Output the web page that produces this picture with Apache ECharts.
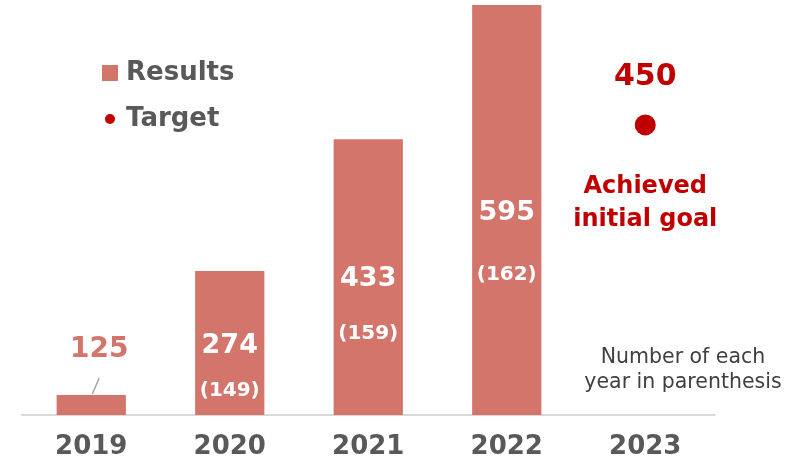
<!DOCTYPE html>
<html>
<head>
<meta charset="utf-8">
<script src="https://cdn.jsdelivr.net/npm/echarts@6/dist/echarts.min.js"></script>
<style>
html,body{margin:0;padding:0;background:#fff;}
#c{width:797px;height:462px;}
</style>
</head>
<body>
<div id="c"></div>
<script>
// ---- data ----
var years = ['2019', '2020', '2021', '2022', '2023'];
var results = [125, 274, 433, 595];          // cumulative results (labels)
var yearCounts = [null, 149, 159, 162];      // number of each year (parenthesis)
var barLevels = [29, 209, 400, 595];         // drawn bar heights
var target = 450;                            // target label
var targetLevel = 421;                       // drawn target dot height
var noteText = 'Number of each\nyear in parenthesis';
var goalText = 'Achieved\ninitial goal';

var BAR = '#D4756C', RED = '#C00000', GREY = '#595959', FONT = 'DejaVu Sans';

var insideDist = [null, 60, 125, 193];
var secondLH = [null, 60, 78, 94];

var barData = barLevels.map(function (v, i) {
  if (i === 0) {
    return {
      value: v,
      label: {
        show: true, position: 'top', distance: 31, offset: [8, 0],
        formatter: String(results[i]),
        color: BAR, fontSize: 28, fontWeight: 'bold', fontFamily: FONT
      }
    };
  }
  return {
    value: v,
    label: {
      show: true, position: 'insideTop', distance: insideDist[i],
      formatter: '{a|' + results[i] + '}\n{b|(' + yearCounts[i] + ')}',
      rich: {
        a: { color: '#fff', fontSize: 27, fontWeight: 'bold', fontFamily: FONT, lineHeight: 30, align: 'center' },
        b: { color: '#fff', fontSize: 20, fontWeight: 'bold', fontFamily: FONT, lineHeight: secondLH[i], align: 'center' }
      }
    }
  };
});

var dotSvg = "data:image/svg+xml;charset=utf-8," + encodeURIComponent(
  "<svg xmlns='http://www.w3.org/2000/svg' width='16' height='16'><circle cx='8' cy='8' r='5' fill='" + RED + "'/></svg>");

var chart = echarts.init(document.getElementById('c'), null, { renderer: 'canvas' });
var option = {
  animation: false,
  backgroundColor: '#fff',
  grid: { left: 22, right: 82.5, top: 5, bottom: 47 },
  legend: {
    orient: 'vertical', left: 102, top: 58, padding: 0,
    itemWidth: 16, itemHeight: 16, itemGap: 16,
    selectedMode: false,
    textStyle: { fontSize: 26, fontWeight: 'bold', color: GREY, fontFamily: FONT, lineHeight: 30, padding: [0, 0, 0, 3] },
    data: [
      { name: 'Results', icon: 'rect' },
      { name: 'Target', icon: 'image://' + dotSvg }
    ]
  },
  xAxis: {
    type: 'category', data: years,
    axisLine: { show: true, lineStyle: { color: '#D9D9D9', width: 2 } },
    axisTick: { show: false },
    axisLabel: { margin: 19, fontSize: 26, fontWeight: 'bold', color: GREY, fontFamily: FONT }
  },
  yAxis: {
    type: 'value', min: 0, max: 595, show: false, splitLine: { show: false }
  },
  series: [
    {
      name: 'Results', type: 'bar', barWidth: '50%',
      itemStyle: { color: BAR },
      data: barData
    },
    {
      name: 'Target', type: 'scatter', symbol: 'circle', symbolSize: 21,
      itemStyle: { color: RED, opacity: 1 },
      label: {
        show: true, position: 'top', distance: 22, formatter: String(target),
        color: RED, fontSize: 30, fontWeight: 'bold', fontFamily: FONT
      },
      data: [[4, targetLevel]]
    },
    {
      name: 'goal', type: 'scatter', symbol: 'circle', symbolSize: 21, silent: true,
      itemStyle: { color: 'rgba(0,0,0,0)', opacity: 1 },
      label: {
        show: true, position: 'bottom', distance: 35, formatter: goalText,
        color: RED, fontSize: 24, fontWeight: 'bold', fontFamily: FONT, lineHeight: 33, align: 'center'
      },
      data: [[4, targetLevel]]
    }
  ]
};
chart.setOption(option);

var p = chart.convertToPixel({ xAxisIndex: 0, yAxisIndex: 0 }, [0, barLevels[0]]);
chart.setOption({
  graphic: [
    {
      type: 'line', silent: true,
      shape: { x1: p[0] + 1, y1: p[1] - 1, x2: p[0] + 8, y2: p[1] - 17 },
      style: { stroke: '#A6A6A6', lineWidth: 1.5 }
    },
    {
      type: 'text', left: 583, top: 345, silent: true,
      style: {
        text: noteText, fill: '#404040', fontSize: 20.5, fontFamily: FONT,
        lineHeight: 25, align: 'center', textAlign: 'center', width: 200
      }
    }
  ]
});
</script>
</body>
</html>
